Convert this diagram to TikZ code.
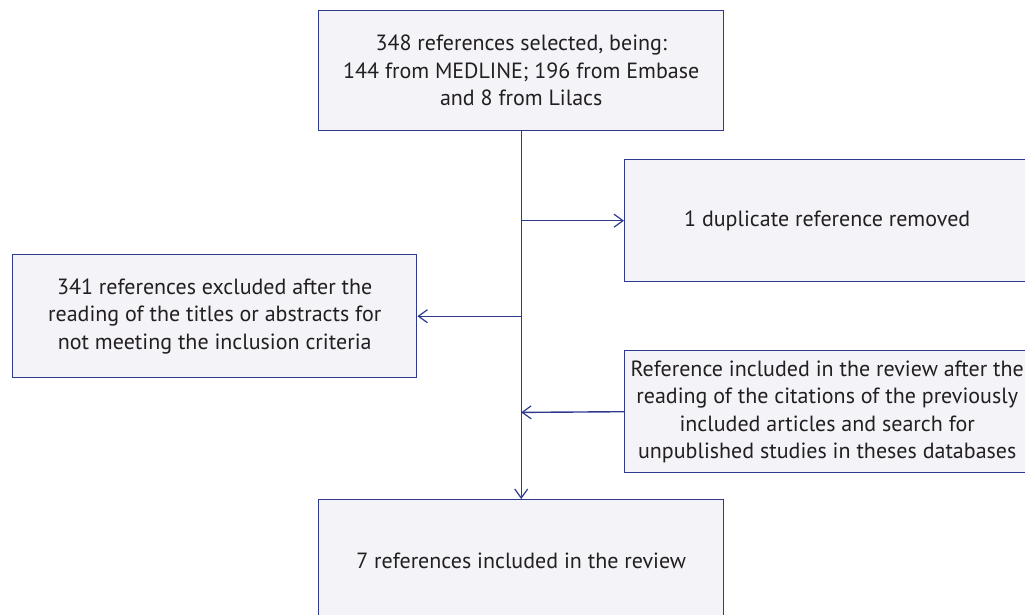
\documentclass[tikz,border=0pt]{standalone}
\usepackage{fontspec}
\setmainfont{PT Sans}
\usepackage{xcolor}
\usepackage{tikz}
\usetikzlibrary{arrows.meta, positioning, calc}

\definecolor{boxline}{HTML}{2E3A8C}
\definecolor{boxfill}{HTML}{F3F3F8}
\definecolor{boxtext}{HTML}{231F20}

\begin{document}
\begin{tikzpicture}[
    x=1pt, y=-1pt,
    stage/.style={rectangle, draw=boxline, fill=boxfill, line width=1.4pt, text=boxtext, align=center, anchor=north west, inner sep=0pt, minimum width=405pt, minimum height=122pt, font=\fontsize{22}{27.5}\selectfont},
    arrow/.style={-{Straight Barb[length=9pt, width=13pt, line width=1.2pt]}, draw=boxline, line width=1.4pt}
]
\useasboundingbox (0,0) rectangle (1025,615);
\clip (0,0) rectangle (1025,615);

% Boxes
\node[stage, minimum height=120pt] (selected) at (318,10) {348 references selected, being:\\144 from MEDLINE; 196 from Embase\\and 8 from Lilacs};
\node[stage] (duplicate) at (624,159) {1 duplicate reference removed};
\node[stage, minimum width=404pt, minimum height=123pt] (excluded) at (12,254) {341 references excluded after the\\reading of the titles or abstracts for\\not meeting the inclusion criteria};
\node[stage] (added) at (624,350) {Reference included in the review after the\\reading of the citations of the previously\\included articles and search for\\unpublished studies in theses databases};
\node[stage] (final) at (318,499) {7 references included in the review};

% Junctions on the main line
\coordinate (j1) at (selected.south |- duplicate.west);
\coordinate (j2) at (selected.south |- excluded.east);
\coordinate (j3) at ($(selected.south)+(0,281)$);

% Main line
\draw[arrow] (selected.south) -- (final.north);

% Side arrows
\draw[arrow] (j1) -- (duplicate.west);
\draw[arrow] (j2) -- (excluded.east);
\draw[arrow] (added.west) -- (j3);

\end{tikzpicture}
\end{document}
